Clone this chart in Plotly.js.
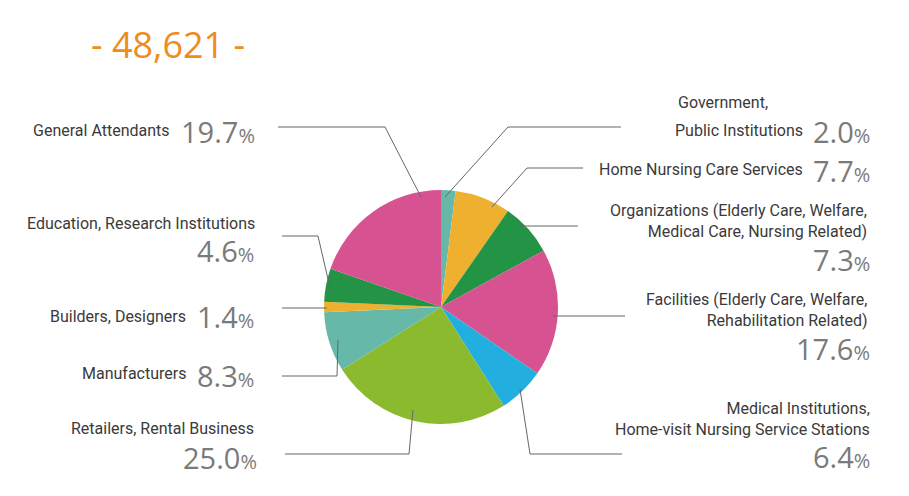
<!DOCTYPE html>
<html>
<head>
<meta charset="utf-8">
<script src="https://cdn.plot.ly/plotly-3.0.1.min.js"></script>
<style>html,body{margin:0;padding:0;background:#fff;}#chart{width:909px;height:496px;}</style>
</head>
<body>
<div id="chart"></div>
<script>
const categories = [
  "Government, Public Institutions",
  "Home Nursing Care Services",
  "Organizations (Elderly Care, Welfare, Medical Care, Nursing Related)",
  "Facilities (Elderly Care, Welfare, Rehabilitation Related)",
  "Medical Institutions, Home-visit Nursing Service Stations",
  "Retailers, Rental Business",
  "Manufacturers",
  "Builders, Designers",
  "Education, Research Institutions",
  "General Attendants"
];
const shares = [2.0, 7.7, 7.3, 17.6, 6.4, 25.0, 8.3, 1.4, 4.6, 19.7];
const sliceColors = ["#66b9a8","#efb030","#239346","#d75290","#22aedf","#8cba2e","#66b9a8","#efb030","#239346","#d75290"];
const displayLabels = [
  ["Government,", "Public Institutions"],
  ["Home Nursing Care Services"],
  ["Organizations (Elderly Care, Welfare,<br>Medical Care, Nursing Related)"],
  ["Facilities (Elderly Care, Welfare,<br>Rehabilitation Related)"],
  ["Medical Institutions,<br>Home-visit Nursing Service Stations"],
  ["Retailers, Rental Business"],
  ["Manufacturers"],
  ["Builders, Designers"],
  ["Education, Research Institutions"],
  ["General Attendants"]
];
const total = "- 48,621 -";

const W = 909, H = 496;
const px = x => x / W;
const py = y => 1 - y / H;
const LFONT = "Roboto, Open Sans, sans-serif";
const NFONT = "Open Sans, Noto Sans, sans-serif";

// label layout: [[lineRightX, lineCenterY]...], [numRightX, numCenterY]
const labelPos = [
  [[[770, 102], [805, 130]], [872, 131]],
  [[[805, 169]], [872, 170]],
  [[[869, 221]], [872, 259]],
  [[[869, 310]], [872, 348]],
  [[[872, 419]], [872, 456]],
  [[[256, 428]], [259, 457]],
  [[[188, 373]], [256, 375]],
  [[[188, 316]], [256, 316]],
  [[[257, 223]], [256, 250]],
  [[[172, 130]], [257, 131]]
];
// leader line polylines (pixel coordinates)
const leaders = [
  [[621,127],[508,127],[445,197]],
  [[583,168],[527,168],[492,207]],
  [[578,226],[519,226]],
  [[625,316],[553,316]],
  [[622,454],[530,454],[520,389]],
  [[285,454],[409,454],[413,410]],
  [[282,376],[337,376],[338,340]],
  [[282,308],[327,308]],
  [[282,236],[318,236],[331,292]],
  [[278,127],[385,127],[421,197]]
];

const annotations = [];
const shapes = [];
categories.forEach((c, i) => {
  const p = labelPos[i];
  displayLabels[i].forEach((line, k) => {
    annotations.push({
      xref: "paper", yref: "paper", x: px(p[0][k][0]), y: py(p[0][k][1]),
      xanchor: "right", yanchor: "middle", align: "right", showarrow: false,
      text: line, font: {family: LFONT, size: 16, color: "#3a3a3a"}
    });
  });
  annotations.push({
    xref: "paper", yref: "paper", x: px(p[1][0]), y: py(p[1][1]),
    xanchor: "right", yanchor: "middle", align: "right", showarrow: false,
    text: shares[i].toFixed(1) + "<span style='font-size:20px'>%</span>",
    font: {family: NFONT, size: 29, color: "#7a7a7a"}
  });
  const pts = leaders[i];
  let path = "M" + px(pts[0][0]) + "," + py(pts[0][1]);
  for (let k = 1; k < pts.length; k++) path += " L" + px(pts[k][0]) + "," + py(pts[k][1]);
  shapes.push({type: "path", xref: "paper", yref: "paper", path: path, line: {color: "#666", width: 1}, layer: "above"});
});
annotations.push({
  xref: "paper", yref: "paper", x: px(89), y: py(45), xanchor: "left", yanchor: "middle",
  showarrow: false, text: total, font: {family: NFONT, size: 36, color: "#ee8c1c"}
});

const cx = 441, cy = 307, r = 117;
const data = [{
  type: "pie",
  labels: categories,
  values: shares,
  sort: false,
  direction: "clockwise",
  rotation: 0,
  marker: {colors: sliceColors, line: {width: 0}},
  textinfo: "none",
  hoverinfo: "label+percent",
  showlegend: false,
  automargin: false,
  domain: {x: [px(cx - r), px(cx + r)], y: [py(cy + r), py(cy - r)]}
}];

const layout = {
  width: W, height: H,
  margin: {l: 0, r: 0, t: 0, b: 0},
  paper_bgcolor: "#fff",
  showlegend: false,
  annotations: annotations,
  shapes: shapes
};
Plotly.newPlot("chart", data, layout, {displayModeBar: false, staticPlot: true});
</script>
</body>
</html>
